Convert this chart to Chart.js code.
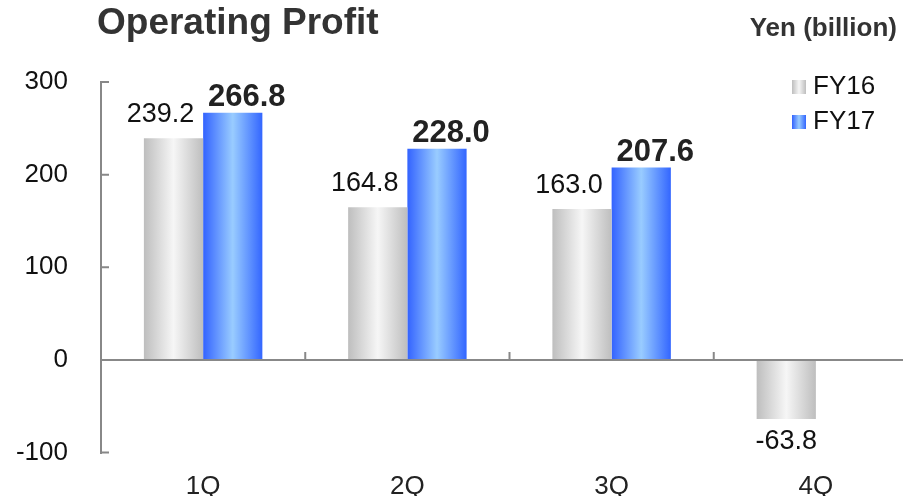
<!DOCTYPE html>
<html>
<head>
<meta charset="utf-8">
<script src="https://cdn.jsdelivr.net/npm/chart.js@4.4.1/dist/chart.umd.min.js"></script>
<style>
  body { margin: 0; width: 903px; height: 496px; overflow: hidden; background: #fff; position: relative;
         font-family: Arial, "Liberation Sans", sans-serif; }
  #wrap { position: absolute; left: 0; top: 0; width: 930px; height: 496px; }
  #title { position: absolute; left: 97px; top: 3px; font-size: 37px; line-height: 1; font-weight: bold; color: #333; }
  #unit { position: absolute; right: 6px; top: 14px; font-size: 26px; line-height: 1; font-weight: bold; color: #333; }
</style>
</head>
<body>
<div id="wrap"><canvas id="myChart"></canvas></div>
<div id="title">Operating Profit</div>
<div id="unit">Yen (billion)</div>
<script>
const quarters = ["1Q", "2Q", "3Q", "4Q"];
const fy16 = [239.2, 164.8, 163.0, -63.8];
const fy17 = [266.8, 228.0, 207.6, null];
const yTicks = [-100, 0, 100, 200, 300];
const seriesNames = ["FY16", "FY17"];

const fontFamily = "Arial, 'Liberation Sans', sans-serif";
const gradientStops = [
  [[0, "#bebebe"], [0.5, "#f6f6f6"], [1, "#bebebe"]],
  [[0, "#3363ff"], [0.5, "#99ccff"], [1, "#3366ff"]]
];

function makeGradient(ctx, left, right, stops) {
  const g = ctx.createLinearGradient(left, 0, right, 0);
  stops.forEach(s => g.addColorStop(s[0], s[1]));
  return g;
}

// horizontal shading on each bar, once positions are known
const barGradients = {
  id: "barGradients",
  afterDatasetsUpdate(chart) {
    const ctx = chart.ctx;
    chart.data.datasets.forEach((ds, di) => {
      chart.getDatasetMeta(di).data.forEach(bar => {
        if (!isFinite(bar.x) || !isFinite(bar.width)) return;
        const g = makeGradient(ctx, bar.x - bar.width / 2, bar.x + bar.width / 2, gradientStops[di]);
        bar.options = Object.assign({}, bar.options, { backgroundColor: g });
      });
    });
  }
};

// small inward ticks on the y axis and category marks on the zero line
const axisMarks = {
  id: "axisMarks",
  afterDraw(chart) {
    const { ctx, chartArea, scales } = chart;
    const y0 = scales.y.getPixelForValue(0);
    ctx.save();
    ctx.strokeStyle = "#888";
    ctx.lineWidth = 2;
    ctx.beginPath();
    yTicks.forEach(v => {
      const py = scales.y.getPixelForValue(v);
      ctx.moveTo(chartArea.left, py);
      ctx.lineTo(chartArea.left + 8, py);
    });
    for (let i = 1; i < quarters.length; i++) {
      const px = (scales.x.getPixelForValue(i - 1) + scales.x.getPixelForValue(i)) / 2;
      ctx.moveTo(px, y0);
      ctx.lineTo(px, y0 - 8);
    }
    ctx.stroke();
    ctx.restore();
  }
};

const valueLabels = {
  id: "valueLabels",
  afterDatasetsDraw(chart) {
    const ctx = chart.ctx;
    ctx.save();
    ctx.textAlign = "center";
    ctx.textBaseline = "alphabetic";
    chart.data.datasets.forEach((ds, di) => {
      chart.getDatasetMeta(di).data.forEach((bar, i) => {
        const v = ds.data[i];
        if (v == null) return;
        const paired = fy16[i] != null && fy17[i] != null;
        if (di === 0) {
          ctx.font = "27px " + fontFamily;
          ctx.fillStyle = "#111";
        } else {
          ctx.font = "bold 31px " + fontFamily;
          ctx.fillStyle = "#222";
        }
        let x = bar.x;
        if (paired) x += di === 0 ? -13 : 14;
        const y = v >= 0 ? bar.y - (di === 0 ? 16 : 7) : bar.y + 30;
        ctx.fillText(v.toFixed(1), x, y);
      });
    });
    ctx.restore();
  }
};

const cornerLegend = {
  id: "cornerLegend",
  afterDraw(chart) {
    const ctx = chart.ctx;
    ctx.save();
    ctx.font = "26px " + fontFamily;
    ctx.textBaseline = "middle";
    ctx.textAlign = "left";
    seriesNames.forEach((name, i) => {
      const top = 80 + i * 35;
      ctx.fillStyle = makeGradient(ctx, 792, 806, gradientStops[i]);
      ctx.fillRect(792, top, 14, 14);
      ctx.fillStyle = "#111";
      ctx.fillText(name, 813, top + 7);
    });
    ctx.restore();
  }
};

new Chart("myChart", {
  type: "bar",
  data: {
    labels: quarters,
    datasets: [{
      label: seriesNames[0],
      data: fy16,
      backgroundColor: "#dddddd"
    }, {
      label: seriesNames[1],
      data: fy17,
      backgroundColor: "#6699ff"
    }]
  },
  options: {
    responsive: true,
    maintainAspectRatio: false,
    animation: false,
    categoryPercentage: 0.58,
    barPercentage: 1.0,
    layout: { padding: { top: 82, right: 12, left: 0, bottom: 0 } },
    plugins: {
      legend: { display: false },
      tooltip: { enabled: false }
    },
    scales: {
      x: {
        grid: { display: false, drawTicks: false },
        border: { display: false },
        ticks: { font: { size: 26, family: fontFamily }, color: "#222", padding: 19 },
        afterFit(scale) { scale.height = 43.5; }
      },
      y: {
        min: -100,
        max: 300,
        ticks: { stepSize: 100, font: { size: 26, family: fontFamily }, color: "#111", padding: 33 },
        grid: {
          drawTicks: false,
          lineWidth: 2,
          color: c => (c.tick && c.tick.value === 0 ? "#888" : "rgba(0,0,0,0)")
        },
        border: { color: "#888", width: 2 },
        afterFit(scale) {
          scale.width = 101;
          // tick padding would otherwise be added to the top/bottom margins
          scale.paddingTop = 0;
          scale.paddingBottom = 0;
        }
      }
    }
  },
  plugins: [barGradients, axisMarks, valueLabels, cornerLegend]
});
</script>
</body>
</html>
